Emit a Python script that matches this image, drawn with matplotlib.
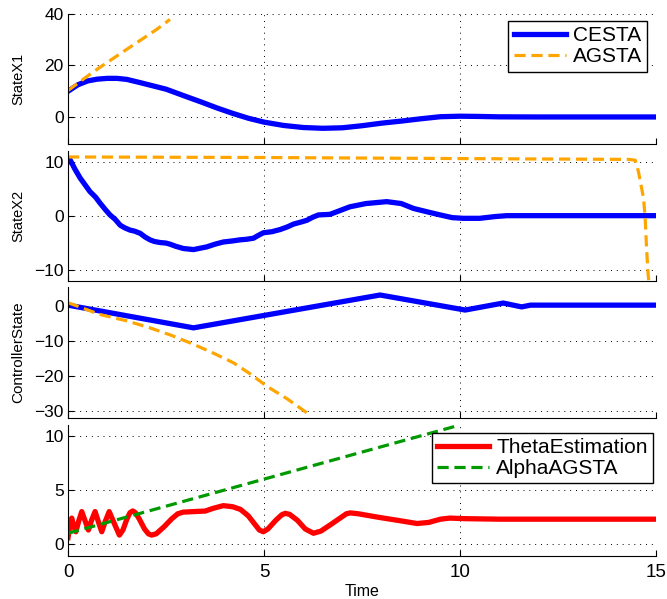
import matplotlib
matplotlib.use("Agg")
import matplotlib.pyplot as plt

plt.rcParams['font.family'] = ['Liberation Sans', 'DejaVu Sans']

# StateX1
t_x1_cesta = [0, 0.25, 0.5, 0.75, 1.0, 1.25, 1.5, 1.85, 2.5, 3.0, 3.4, 3.8, 4.2, 4.6,
              5.0, 5.5, 6.0, 6.5, 7.0, 7.5, 8.0, 8.5, 9.0, 9.5, 10.0, 10.5, 11.0, 12.0, 15.0]
x1_cesta = [10, 12.5, 14.0, 14.7, 15.0, 15.0, 14.6, 13.3, 10.8, 8.0, 5.8, 3.5, 1.4, -0.5,
            -2.0, -3.3, -4.1, -4.4, -4.2, -3.4, -2.4, -1.6, -0.7, 0.1, 0.3, 0.2, 0.05, 0.0, 0.0]
t_x1_agsta = [0, 0.65, 1.41, 2.26, 2.6]
x1_agsta = [10.3, 17.6, 25.4, 34.0, 37.9]

# StateX2
t_x2_cesta = [0, 0.05, 0.18, 0.31, 0.45, 0.56, 0.7, 0.82, 0.95, 1.07, 1.2, 1.33, 1.45, 1.58,
              1.7, 1.84, 1.97, 2.09, 2.2, 2.35, 2.5, 2.6, 2.75, 2.94, 3.2, 3.54, 3.75, 3.96,
              4.2, 4.39, 4.55, 4.73, 4.85, 4.98, 5.2, 5.41, 5.6, 5.75, 5.95, 6.09, 6.25, 6.39,
              6.68, 7.19, 7.6, 8.13, 8.5, 8.81, 9.2, 9.49, 9.8, 10.08, 10.5, 10.9, 11.19, 15.0]
x2_cesta = [10.0, 10.4, 8.6, 7.0, 5.6, 4.5, 3.5, 2.35, 1.2, 0.2, -0.6, -1.7, -2.2, -2.6,
            -2.8, -3.2, -3.9, -4.4, -4.7, -4.9, -5.0, -5.2, -5.6, -6.0, -6.2, -5.7, -5.2, -4.8,
            -4.6, -4.4, -4.3, -4.1, -3.6, -3.1, -2.9, -2.5, -2.0, -1.5, -1.1, -0.8, -0.2, 0.2,
            0.3, 1.7, 2.3, 2.65, 2.3, 1.4, 0.7, 0.2, -0.3, -0.43, -0.43, -0.1, 0.06, 0.06]
t_x2_agsta = [0, 5.0, 11.4, 14.3, 14.47, 14.55, 14.68, 14.72, 14.76, 14.8, 14.86]
x2_agsta = [10.9, 10.8, 10.55, 10.45, 10.3, 8.2, 3.3, -0.1, -6.3, -11.0, -15.0]

# ControllerState
t_u_cesta = [0, 3.2, 7.96, 10.13, 11.1, 11.57, 11.8, 15.0]
u_cesta = [0.3, -6.2, 3.2, -1.1, 0.9, -0.2, 0.3, 0.3]
t_u_agsta = [0, 0.82, 1.5, 2.09, 2.65, 3.2, 3.7, 4.22, 4.65, 5.07, 5.6, 6.09, 6.2]
u_agsta = [1.0, -2.4, -4.2, -6.2, -8.4, -10.9, -13.4, -16.2, -19.4, -22.9, -26.6, -30.5, -31.4]

# ThetaEstimation / AlphaAGSTA
t_theta = [0, 0.05, 0.094, 0.15, 0.2, 0.27, 0.35, 0.44, 0.52, 0.6, 0.69, 0.78, 0.86, 0.95,
           1.05, 1.18, 1.31, 1.4, 1.5, 1.58, 1.65, 1.72, 1.82, 1.95, 2.05, 2.13, 2.25, 2.45,
           2.65, 2.8, 2.94, 3.2, 3.5, 3.7, 3.96, 4.2, 4.4, 4.6, 4.75, 4.88, 4.98, 5.1, 5.3,
           5.45, 5.54, 5.65, 5.85, 6.05, 6.26, 6.45, 6.7, 6.94, 7.1, 7.2, 7.4, 7.96, 8.4, 8.9,
           9.2, 9.5, 9.74, 10.1, 11.0, 15.0]
theta = [0.6, 1.8, 2.4, 1.6, 1.14, 2.1, 3.0, 2.1, 1.3, 2.2, 3.0, 2.0, 1.14, 2.1,
         3.0, 1.9, 0.83, 1.3, 2.3, 2.9, 3.06, 2.9, 2.3, 1.4, 0.95, 0.83, 0.95, 1.6,
         2.35, 2.8, 2.95, 3.0, 3.05, 3.3, 3.55, 3.45, 3.2, 2.6, 1.9, 1.3, 1.14, 1.4, 2.2,
         2.7, 2.84, 2.75, 2.2, 1.4, 1.0, 1.2, 1.8, 2.4, 2.8, 2.88, 2.8, 2.45, 2.2, 1.9,
         2.0, 2.3, 2.4, 2.35, 2.3, 2.3]
t_alpha = [0, 9.85]
alpha = [1.0, 10.85]

xticks = [0, 5, 10, 15]

blue = (0, 0, 1)
orange = '#FFA500'
red = (1, 0, 0)
green = (0, 0.6, 0)

fig = plt.figure(figsize=(6.67, 5.99), dpi=100)
left, width = 0.102, 0.8816
pos = [(0.7596, 0.2170), (0.5309, 0.2170), (0.3022, 0.2187), (0.0718, 0.2187)]
axs = [fig.add_axes([left, b, width, h]) for b, h in pos]

for ax in axs:
    ax.spines['top'].set_visible(False)
    ax.spines['right'].set_visible(False)
    ax.set_xlim(0, 15)
    ax.set_xticks(xticks)
    ax.tick_params(direction='in', length=4, width=0.8, top=False, right=False)
    ax.tick_params(axis='y', labelsize=12.5, pad=3)
    ax.tick_params(axis='x', labelsize=13.5, pad=6)
    ax.grid(True, color='k', linewidth=0.7, dashes=(1, 5))
    ax.set_axisbelow(True)
for ax in axs[:3]:
    ax.tick_params(labelbottom=False)

dash_kw = dict(linestyle='--', dashes=(3.5, 1.8))
leg_kw = dict(loc='upper right', borderaxespad=0, fontsize=15, fancybox=False,
              edgecolor='k', framealpha=1, handlelength=2.5, handletextpad=0.35,
              labelspacing=0.1, borderpad=0.25)

ax1, ax2, ax3, ax4 = axs
ax1.plot(t_x1_cesta, x1_cesta, color=blue, lw=3.8, label='CESTA')
ax1.plot(t_x1_agsta, x1_agsta, color=orange, lw=2.3, label='AGSTA', **dash_kw)
ax1.set_ylim(-10.5, 40)
ax1.set_yticks([0, 20, 40])
ax1.set_ylabel('StateX1', fontsize=10.5)
ax1.legend(bbox_to_anchor=(0.985, 0.946), **leg_kw)

ax2.plot(t_x2_cesta, x2_cesta, color=blue, lw=3.8)
ax2.plot(t_x2_agsta, x2_agsta, color=orange, lw=2.3, **dash_kw)
ax2.set_ylim(-12, 12)
ax2.set_yticks([-10, 0, 10])
ax2.set_ylabel('StateX2', fontsize=10.5)

ax3.plot(t_u_cesta, u_cesta, color=blue, lw=3.8)
ax3.plot(t_u_agsta, u_agsta, color=orange, lw=2.3, **dash_kw)
ax3.set_ylim(-32, 5.5)
ax3.set_yticks([-30, -20, -10, 0])
ax3.set_ylabel('ControllerState', fontsize=11)

ax4.plot(t_theta, theta, color=red, lw=3.8, label='ThetaEstimation')
ax4.plot(t_alpha, alpha, color=green, lw=2.3, label='AlphaAGSTA', **dash_kw)
ax4.set_ylim(-1.1, 11)
ax4.set_yticks([0, 5, 10])
ax4.set_xlabel('Time', fontsize=11.5)
ax4.xaxis.set_label_coords(0.5, -0.21)
ax4.legend(bbox_to_anchor=(0.995, 0.939), **leg_kw)

for ax in axs[:3]:
    ax.yaxis.set_label_coords(-0.072, 0.5)

for ax in (ax1, ax4):
    ax.get_legend().get_frame().set_linewidth(1.0)

fig.savefig('out.png', dpi=100)
